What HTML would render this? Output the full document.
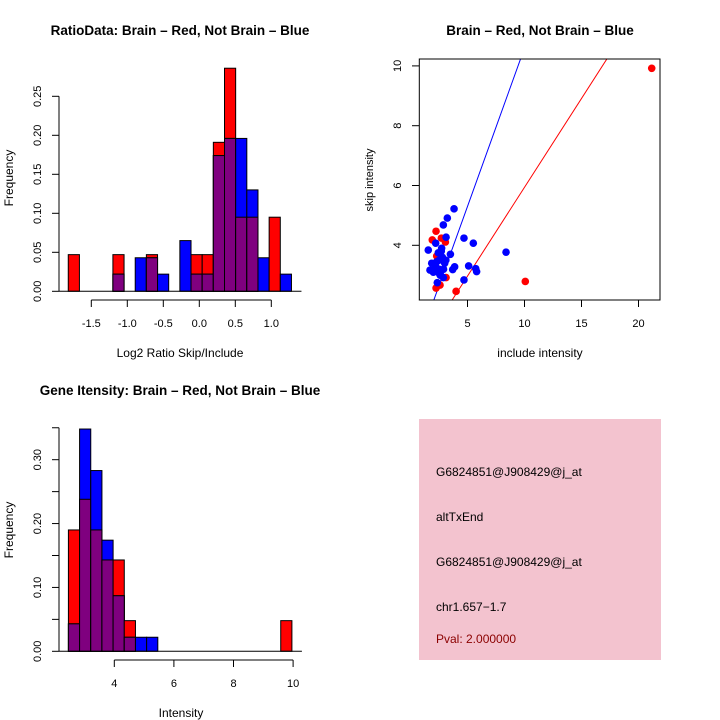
<!DOCTYPE html>
<html><head><meta charset="utf-8"><style>
body{margin:0;background:#fff;}
svg{display:block;font-family:"Liberation Sans",sans-serif;}
</style></head><body>
<svg id="c" width="720" height="720"></svg>
<script>
// Ratio histogram data
const ratioStart = -1.82, ratioBin = 0.155;
const ratioRed  = [0.047,0,0,0,0.047,0,0,0.047,0,0,0,0.047,0.047,0.191,0.286,0.095,0.095,0,0.095,0];
const ratioBlue = [0,0,0,0,0.022,0,0.043,0.043,0.022,0,0.065,0.022,0.022,0.174,0.196,0.196,0.130,0.043,0,0.022];
const ratioYTicks = [0,0.05,0.10,0.15,0.20,0.25];
const ratioYLabels = ["0.00","0.05","0.10","0.15","0.20","0.25"];
const ratioXTicks = [-1.5,-1.0,-0.5,0.0,0.5,1.0];
const ratioXLabels = ["-1.5","-1.0","-0.5","0.0","0.5","1.0"];
// Scatter data
const redX = [21.16,10.07,4.0,2.24,1.91,2.71,3.06,2.24,2.59,3.12,2.30,2.59];
const redY = [9.92,2.79,2.46,4.47,4.18,4.24,4.11,2.57,2.67,2.92,3.64,3.53];
const blueX = [3.82,3.23,2.88,4.69,5.51,3.12,2.21,1.56,3.50,2.73,2.44,8.38,5.10,3.87,3.70,5.72,5.80,4.69,2.35,2.88,1.86,1.71,2.2,2.5,2.8,3.0,2.4,2.6,2.0,2.9,2.3,2.7,3.1,2.5];
const blueY = [5.22,4.91,4.68,4.24,4.07,4.27,4.07,3.84,3.70,3.90,3.75,3.77,3.31,3.28,3.19,3.22,3.12,2.84,2.75,2.92,3.40,3.17,3.3,3.5,3.6,3.4,3.1,3.0,3.1,3.2,3.45,3.8,3.5,3.2];
const redSlope = 0.594, blueSlope = 1.06;
const scXTicks = [5,10,15,20];
const scYTicks = [4,6,8,10];
// Intensity histogram data
const intStart = 2.46, intBin = 0.375;
const intRed  = [0.19,0.238,0.19,0.143,0.143,0.048,0,0,0,0,0,0,0,0,0,0,0,0,0,0.048];
const intBlue = [0.043,0.348,0.283,0.174,0.087,0.022,0.022,0.022,0,0,0,0,0,0,0,0,0,0,0,0];
const intYTicks = [0,0.05,0.10,0.15,0.20,0.25,0.30,0.35];
const intYLabels = ["0.00","","0.10","","0.20","","0.30",""];
const intXTicks = [4,6,8,10];

const svg=document.getElementById('c');
const NS='http://www.w3.org/2000/svg';
function mk(tag,attrs,parent){const e=document.createElementNS(NS,tag);for(const k in attrs)e.setAttribute(k,attrs[k]);(parent||svg).appendChild(e);return e;}
function txt(s,x,y,attrs,parent){const t=mk('text',Object.assign({x:x,y:y,'font-size':12,'text-anchor':'middle'},attrs||{}),parent);t.textContent=s;return t;}

function hist(g,start,bin,red,blue,x0px,ppx,y0px,ppy){
  const X=v=>x0px+(v)*ppx, Y=v=>y0px-v*ppy;
  for(let i=0;i<red.length;i++){
    const l=X(start+i*bin), w=bin*ppx, r=red[i], b=blue[i], m=Math.min(r,b);
    if(r>0){const e=mk('rect',{x:l,y:Y(r),width:w,height:r*ppy,fill:'#ff0000',stroke:'#000','stroke-width':1},g);
      }
    if(b>0){const e=mk('rect',{x:l,y:Y(b),width:w,height:b*ppy,fill:'#0000ff',stroke:'#000','stroke-width':1},g);
      }
    if(m>0){const e=mk('rect',{x:l,y:Y(m),width:w,height:m*ppy,fill:'#7f007f',stroke:'#000','stroke-width':1},g);
      }
  }
  mk('line',{x1:59,x2:X(start+red.length*bin)+10,y1:y0px,y2:y0px,stroke:'#000'},g);
}

// Panel 1
const g1=mk('g',{});
const R_X0=199.3,R_PX=72,R_Y0=291.3,R_PY=780;
hist(g1,ratioStart,ratioBin,ratioRed,ratioBlue,R_X0,R_PX,R_Y0,R_PY);
mk('line',{x1:59,x2:59,y1:R_Y0,y2:R_Y0-0.25*R_PY,stroke:'#000'},g1);
ratioYTicks.forEach((v,i)=>{const y=R_Y0-v*R_PY;mk('line',{x1:52,x2:59,y1:y,y2:y,stroke:'#000'},g1);
  txt(ratioYLabels[i],41,y,{transform:`rotate(-90 41 ${y})`,'font-size':11},g1);});
mk('line',{x1:R_X0-1.5*R_PX,x2:R_X0+1.0*R_PX,y1:300,y2:300,stroke:'#000'},g1);
ratioXTicks.forEach((v,i)=>{const x=R_X0+v*R_PX;mk('line',{x1:x,x2:x,y1:300,y2:307,stroke:'#000'},g1);
  txt(ratioXLabels[i],x,327,{'font-size':11},g1);});
txt('Log2 Ratio Skip/Include',180,357,{},g1);
txt('Frequency',13,178,{transform:'rotate(-90 13 178)'},g1);
txt('RatioData: Brain \u2013 Red, Not Brain \u2013 Blue',180,35,{'font-weight':'bold','font-size':13.5},g1);

// Panel 2 scatter
const g2=mk('g',{});
const SX=v=>467.5+(v-5)*11.4, SY=v=>245.3-(v-4)*29.9;
const cp=mk('clipPath',{id:'cp'},g2);mk('rect',{x:419.3,y:59,width:240.7,height:241},cp);
const xl=0.8,xr=21.9;
const bl=mk('line',{x1:SX(xl),y1:SY(blueSlope*xl),x2:SX(xr),y2:SY(blueSlope*xr),stroke:'#0000ff','clip-path':'url(#cp)'},g2);

const rl=mk('line',{x1:SX(xl),y1:SY(redSlope*xl),x2:SX(xr),y2:SY(redSlope*xr),stroke:'#ff0000','clip-path':'url(#cp)'},g2);

redX.forEach((x,i)=>{const c=mk('circle',{cx:SX(x),cy:SY(redY[i]),r:3.8,fill:'#ff0000'},g2);
  });
blueX.forEach((x,i)=>{const c=mk('circle',{cx:SX(x),cy:SY(blueY[i]),r:3.8,fill:'#0000ff'},g2);
  });
mk('rect',{x:419.3,y:59,width:240.7,height:241,fill:'none',stroke:'#000'},g2);
scXTicks.forEach(v=>{const x=SX(v);mk('line',{x1:x,x2:x,y1:300,y2:307,stroke:'#000'},g2);txt(String(v),x,327,{'font-size':11},g2);});
scYTicks.forEach(v=>{const y=SY(v);mk('line',{x1:412,x2:419.3,y1:y,y2:y,stroke:'#000'},g2);
  txt(String(v),401,y,{transform:`rotate(-90 401 ${y})`,'font-size':11},g2);});
txt('include intensity',540,357,{},g2);
txt('skip intensity',373,180,{transform:'rotate(-90 373 180)','font-size':11},g2);
txt('Brain \u2013 Red, Not Brain \u2013 Blue',540,35,{'font-weight':'bold','font-size':13.5},g2);

// Panel 3
const g3=mk('g',{});
const I_X0=114.3-4*29.8,I_PX=29.8,I_Y0=651.3,I_PY=638.7;
hist(g3,intStart,intBin,intRed,intBlue,I_X0,I_PX,I_Y0,I_PY);
mk('line',{x1:59,x2:59,y1:I_Y0,y2:I_Y0-0.35*I_PY,stroke:'#000'},g3);
intYTicks.forEach((v,i)=>{const y=I_Y0-v*I_PY;mk('line',{x1:52,x2:59,y1:y,y2:y,stroke:'#000'},g3);
  if(intYLabels[i])txt(intYLabels[i],41,y,{transform:`rotate(-90 41 ${y})`,'font-size':11},g3);});
mk('line',{x1:I_X0+4*I_PX,x2:I_X0+10*I_PX,y1:660,y2:660,stroke:'#000'},g3);
intXTicks.forEach(v=>{const x=I_X0+v*I_PX;mk('line',{x1:x,x2:x,y1:660,y2:667,stroke:'#000'},g3);txt(String(v),x,687,{'font-size':11},g3);});
txt('Intensity',181,717,{},g3);
txt('Frequency',13,530,{transform:'rotate(-90 13 530)'},g3);
txt('Gene Itensity: Brain \u2013 Red, Not Brain \u2013 Blue',180,395,{'font-weight':'bold','font-size':13.5},g3);

// Panel 4 info box
const g4=mk('g',{});
mk('rect',{x:419,y:419,width:242,height:241,fill:'#f3c3cf'},g4);
const lines=[['G6824851@J908429@j_at',476,'#000'],['altTxEnd',521,'#000'],['G6824851@J908429@j_at',566,'#000'],['chr1.657\u22121.7',611,'#000'],['Pval: 2.000000',643,'#8b0000']];
lines.forEach((l,i)=>{const t=txt(l[0],436,l[1],{'text-anchor':'start','font-size':12,fill:l[2]},g4);
  });
</script>
</body></html>
